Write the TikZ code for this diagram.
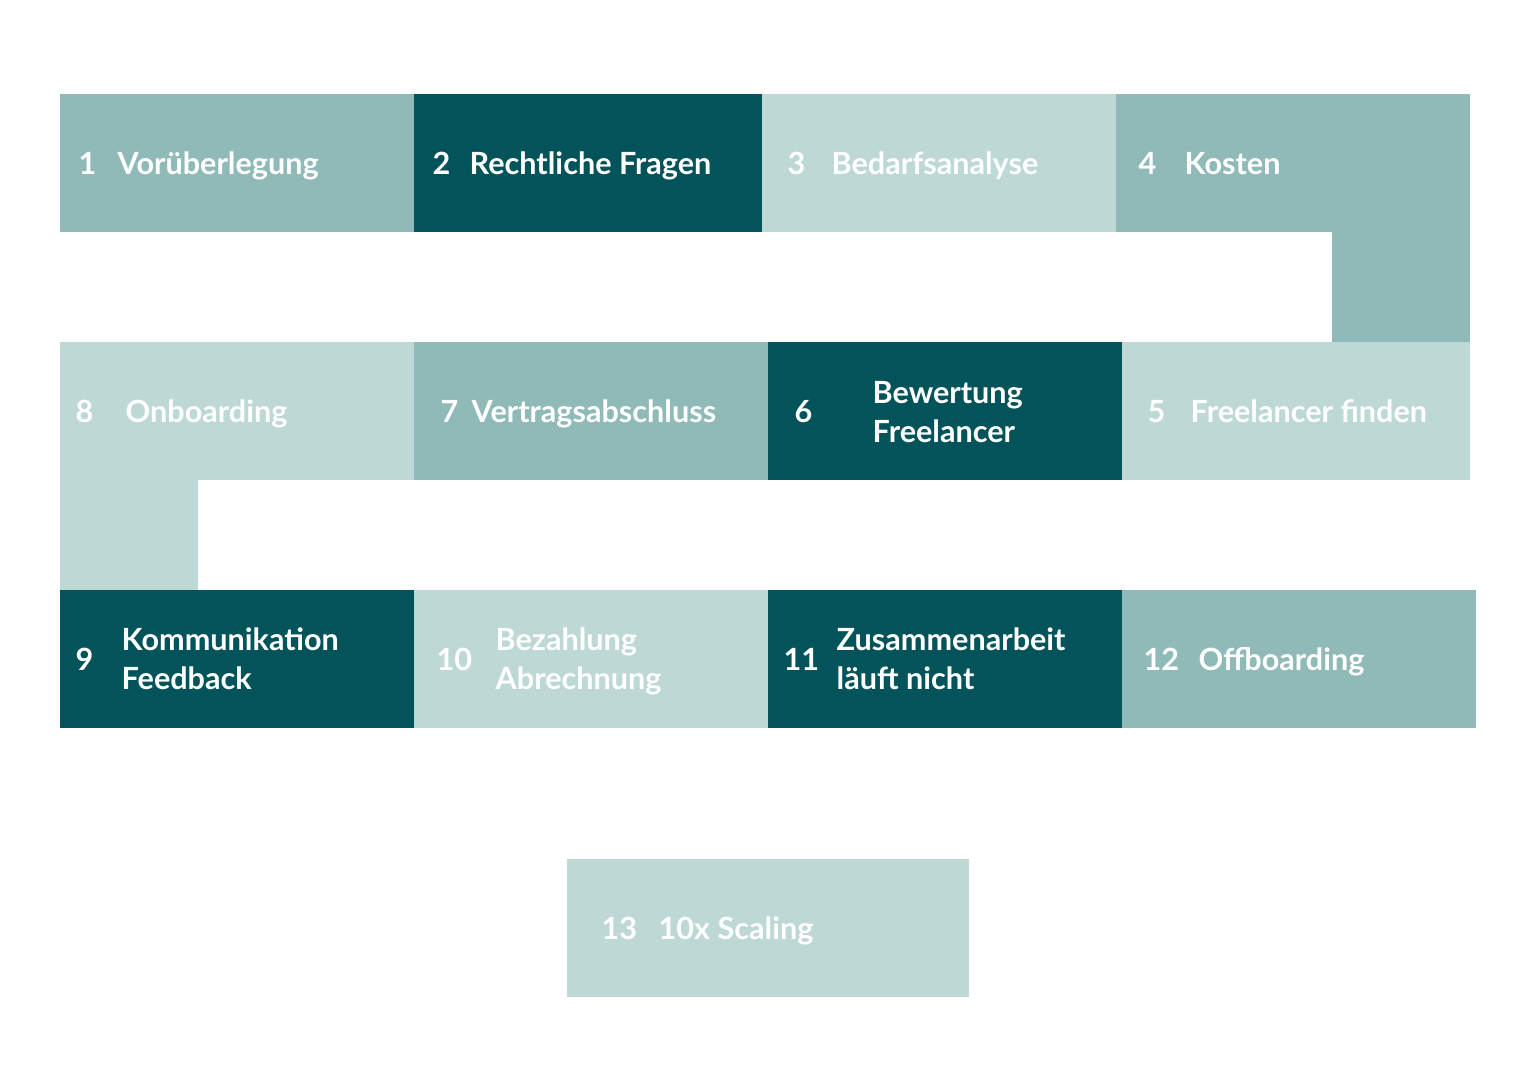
\documentclass[tikz,border=0pt]{standalone}
\usepackage{fontspec}
\setmainfont{Lato}
\definecolor{tealmid}{HTML}{8FBAB7}
\definecolor{tealdark}{HTML}{03545A}
\definecolor{teallight}{HTML}{BDD8D5}
\begin{document}
\begin{tikzpicture}[x=0.01cm,y=-0.01cm,font=\fontsize{8.7}{11.1}\selectfont\bfseries,
	num/.style={anchor=base west,text=white,inner sep=0pt},
	lbl/.style={anchor=base west,text=white,inner sep=0pt,align=left}]
	\useasboundingbox (0,0) rectangle (1536,1086);
	% blocks, row by row
	\foreach \xa/\ya/\xb/\yb/\c in {60/94/414/232/tealmid,414/94/762/232/tealdark,762/94/1116/232/teallight,
		1116/94/1470/232/tealmid,1332/232/1470/342/tealmid,
		60/342/414/480/teallight,60/480/198/590/teallight,414/342/768/480/tealmid,768/342/1122/480/tealdark,1122/342/1470/480/teallight,
		60/590/414/728/tealdark,414/590/768/728/teallight,768/590/1122/728/tealdark,1122/590/1476/728/tealmid,
		567/859/969/997/teallight}
		\fill[\c] (\xa,\ya) rectangle (\xb,\yb);
	% numbers and labels (y = baseline of number, \yl = baseline of last label line)
	\foreach \n/\xn/\xl/\y/\yl/\t in {1/78/117/175/175/{Vorüberlegung},2/432/469/175/175/{Rechtliche Fragen},3/787/831/175/175/{Bedarfsanalyse},4/1138/1184/175/175/{Kosten},
		5/1147/1190/423/423/{Freelancer finden},6/794/872/423/443/{Bewertung\\Freelancer},7/440/471/423/423/{Vertragsabschluss},8/75/125/423/423/{Onboarding},
		9/75/121/671/690/{Kommunikation\\Feedback},10/436/495/671/690/{Bezahlung\\Abrechnung},11/783/836/671/690/{Zusammenarbeit\\läuft nicht},12/1143/1198/671/671/{Offboarding},
		13/601/658/940/940/{10x Scaling}}
		{\node[num] (n\n) at (\xn,\y) {\n};
		\node[lbl] (t\n) at (\xl,\yl) {\t};}
\end{tikzpicture}
\end{document}
